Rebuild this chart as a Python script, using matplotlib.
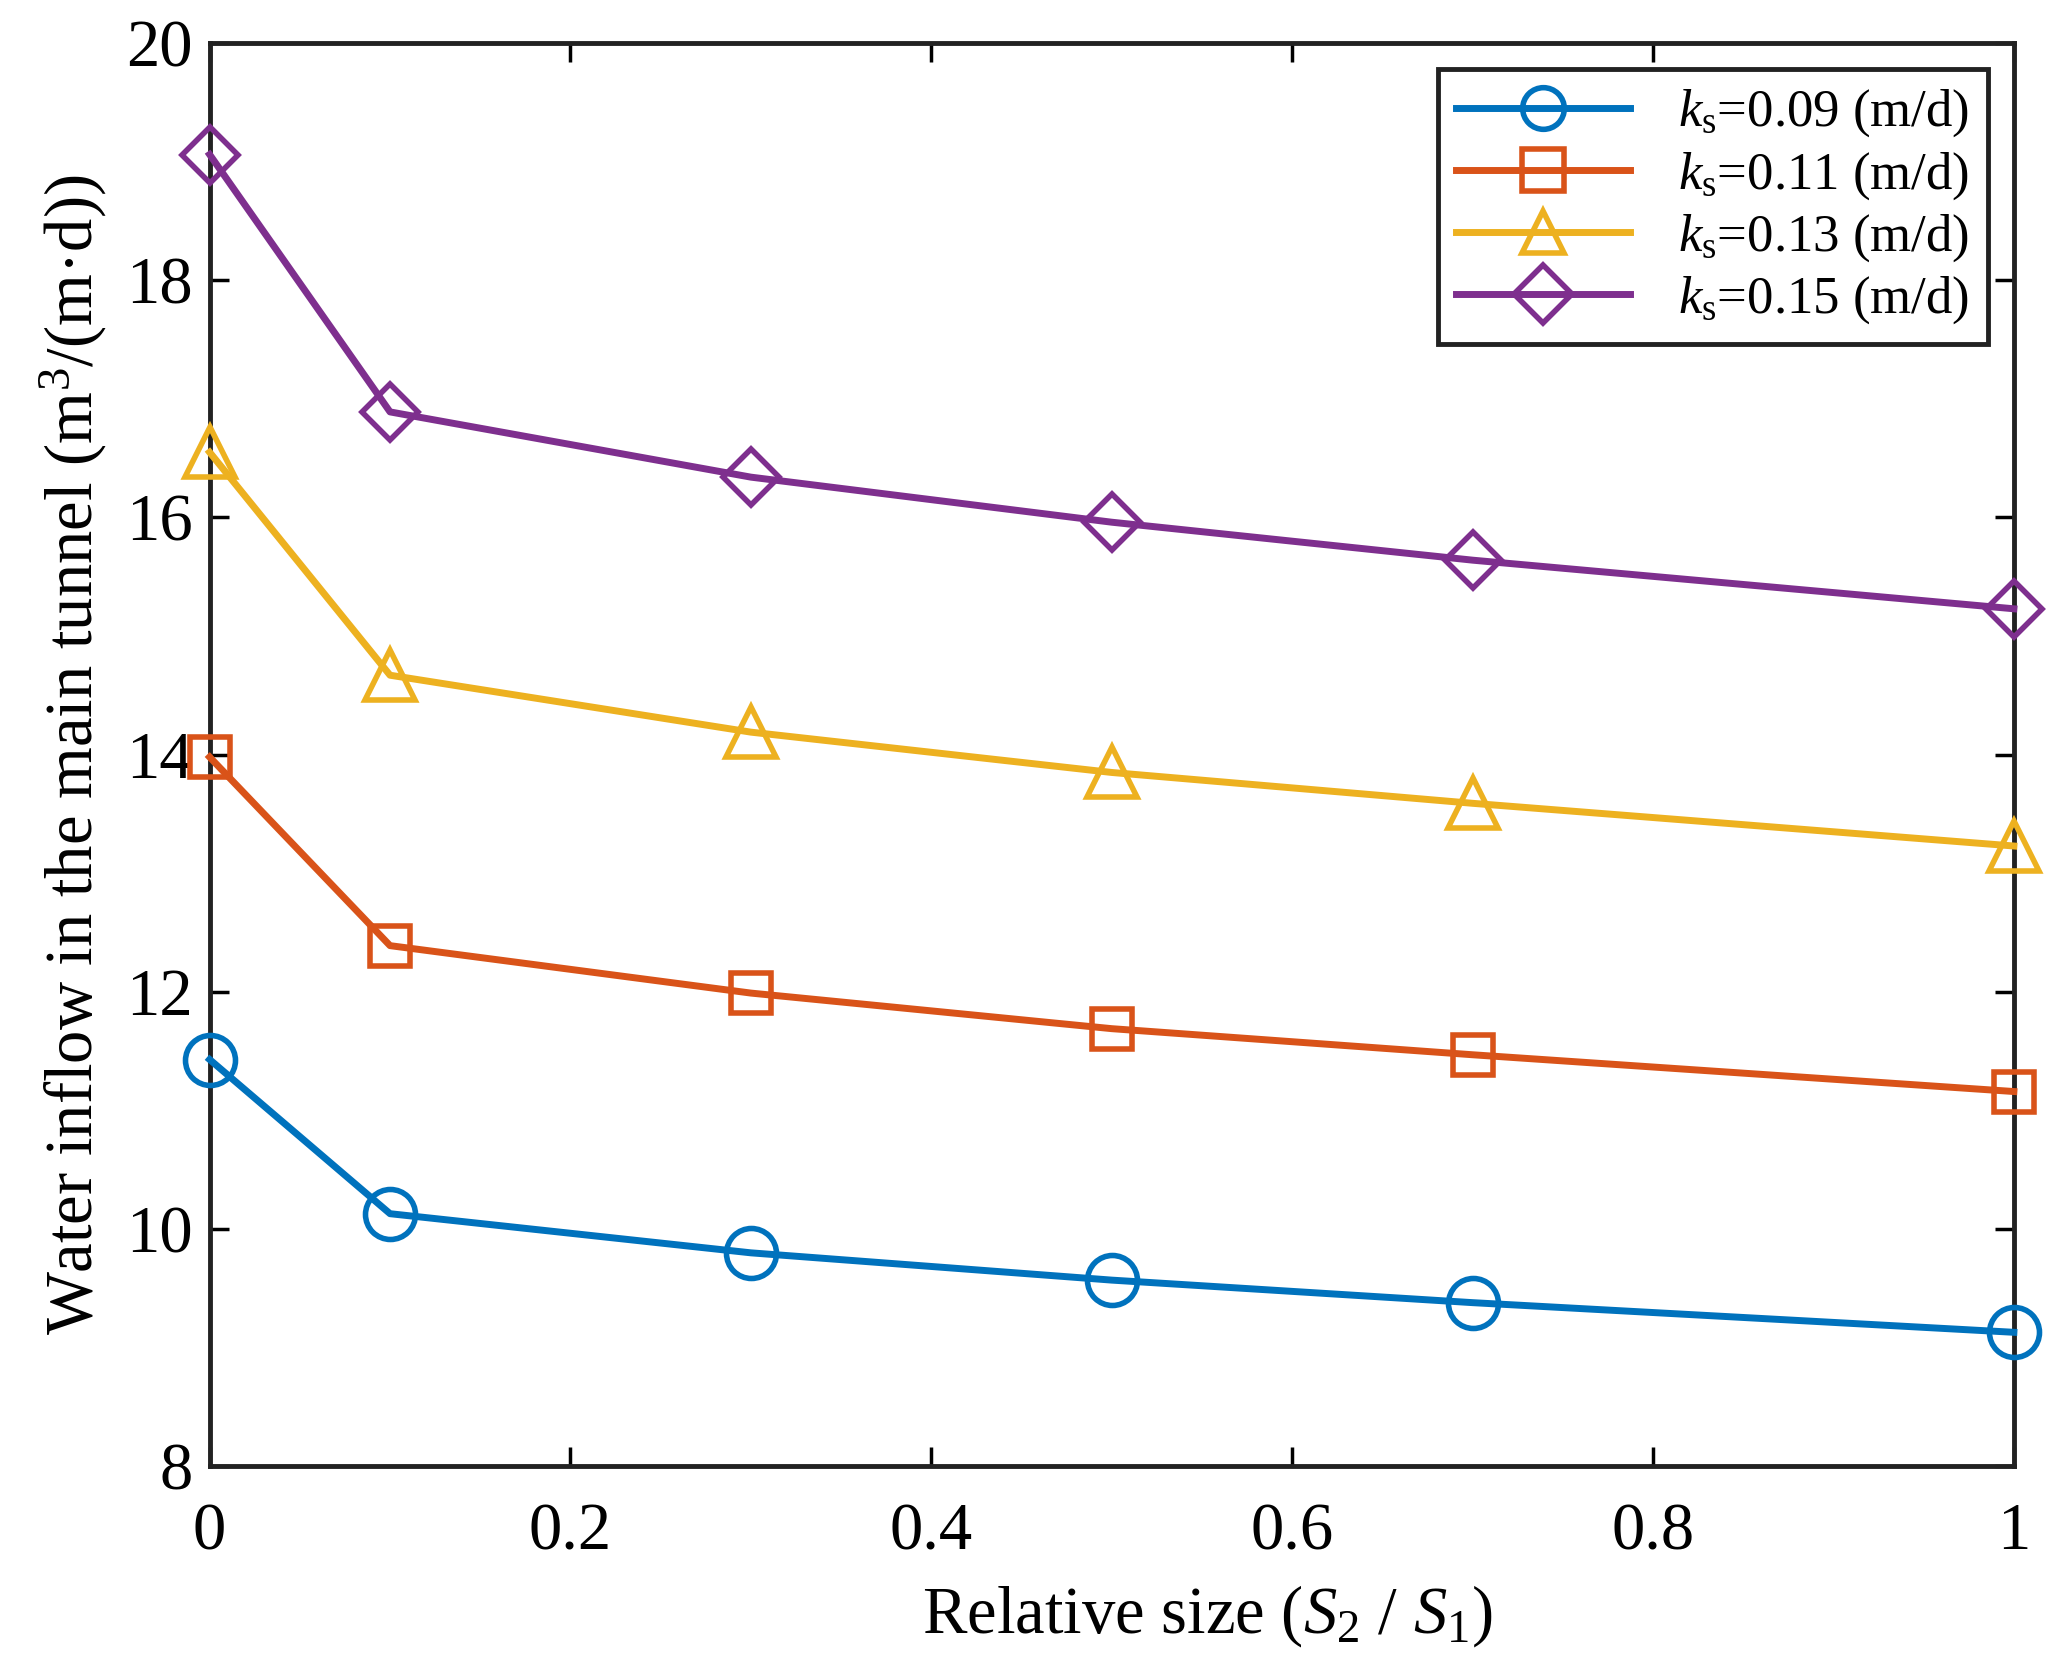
import numpy as np
import matplotlib
matplotlib.use('Agg')
import matplotlib.pyplot as plt

plt.rcParams['font.family'] = ['Liberation Serif', 'DejaVu Serif']
plt.rcParams['mathtext.fontset'] = 'custom'
plt.rcParams['mathtext.rm'] = 'Liberation Serif'
plt.rcParams['mathtext.it'] = 'Liberation Serif:italic'

# relative size S2/S1
rel_size = [0, 0.1, 0.3, 0.5, 0.7, 1.0]

# water inflow for each ks
q_009 = [11.43, 10.13, 9.80, 9.57, 9.38, 9.13]
q_011 = [13.98, 12.39, 11.99, 11.69, 11.47, 11.16]
q_013 = [16.55, 14.67, 14.19, 13.85, 13.59, 13.23]
q_015 = [19.06, 16.89, 16.34, 15.96, 15.64, 15.23]

labels = [r'$k_{\rm s}$=0.09 (m/d)', r'$k_{\rm s}$=0.11 (m/d)',
          r'$k_{\rm s}$=0.13 (m/d)', r'$k_{\rm s}$=0.15 (m/d)']
colors = ['#0072BD', '#D95319', '#EDB120', '#7E2F8E']
markers = ['o', 's', '^', 'D']
msizes = [36, 29, 36, 29]

fig = plt.figure(figsize=(20.55, 16.55), dpi=100)
ax = fig.add_axes([0.102, 0.114, 0.878, 0.860])

for q, lab, c, m, ms in zip([q_009, q_011, q_013, q_015], labels, colors, markers, msizes):
    ax.plot(rel_size, q, color=c, lw=5, marker=m, ms=ms, mfc='none',
            mec=c, mew=4, label=lab, clip_on=False, zorder=3)

ax.set_xlim(0, 1)
ax.set_ylim(8, 20)
ax.set_xticks([0, 0.2, 0.4, 0.6, 0.8, 1])
ax.set_xticklabels(['0', '0.2', '0.4', '0.6', '0.8', '1'])
ax.set_yticks([8, 10, 12, 14, 16, 18, 20])

ax.tick_params(direction='in', length=14, width=2.5, labelsize=48,
               top=True, right=True, pad=12)
ax.tick_params(axis='x', pad=26)
for s in ax.spines.values():
    s.set_linewidth(3.5)
    s.set_color('#222222')

ax.set_xlabel('Relative size ($S_2$ / $S_1$)', fontsize=48)
ax.xaxis.set_label_coords(0.553, -0.082)
ax.set_ylabel('Water inflow in the main tunnel (m$^3$/(m·d))', fontsize=48)
ax.yaxis.set_label_coords(-0.056, 0.5)

leg = ax.legend(loc='upper right', fontsize=38, fancybox=False, framealpha=1,
                edgecolor='#222222', handlelength=3.3, borderaxespad=0.5,
                labelspacing=0.2, handletextpad=0.9, borderpad=0.35)
leg.get_frame().set_linewidth(3.5)
for h in leg.legend_handles:
    h.set_markersize(30)

fig.savefig('out.png', dpi=100)
